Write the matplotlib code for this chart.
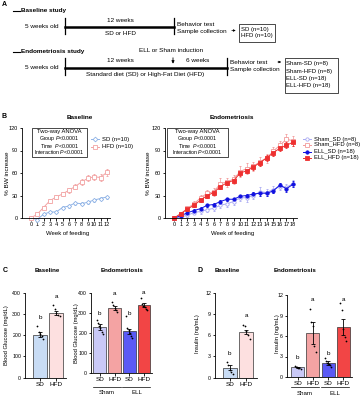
import numpy as np
import matplotlib
matplotlib.use("Agg")
import matplotlib.pyplot as plt
from matplotlib.patches import Rectangle

plt.rcParams['font.family'] = ['Liberation Sans', 'DejaVu Sans']
plt.rcParams['mathtext.fontset'] = 'custom'
plt.rcParams['mathtext.it'] = 'Liberation Sans:italic'
plt.rcParams['mathtext.rm'] = 'Liberation Sans'
plt.rcParams['axes.linewidth'] = 0.6
plt.rcParams['xtick.major.width'] = 0.6
plt.rcParams['ytick.major.width'] = 0.6
plt.rcParams['xtick.major.size'] = 1.8
plt.rcParams['ytick.major.size'] = 1.8
plt.rcParams['xtick.labelsize'] = 4
plt.rcParams['ytick.labelsize'] = 4
plt.rcParams['xtick.major.pad'] = 1.2
plt.rcParams['ytick.major.pad'] = 1.0

# ===== data =====
weeks_base = list(range(0, 13))
sd_base = [0, -2, 5, 8, 8, 14, 16, 20, 19, 21, 24, 26, 28]
sd_base_err = [0, 1, 1.5, 1.5, 1.5, 2, 2, 2, 2, 2, 2, 2, 2]
hfd_base = [0, 5, 14, 23, 28, 32, 37, 42, 48, 53, 55, 54, 61]
hfd_base_err = [0, 1.5, 2, 2.5, 2.5, 3, 3, 3, 4, 4, 4, 5, 5]

weeks_endo = list(range(0, 19))
sham_sd = [0, 1, 4, 7, 9, 11, 13, 17, 19, 22, 27, 27, 30, 35, 34, 38, 42, 41, 46]
sham_sd_err = [0, 1, 2, 2, 3, 3, 3, 4, 4, 4, 4, 5, 5, 6, 5, 5, 5, 5, 5]
sham_hfd = [0, 5, 13, 19, 27, 33, 35, 46, 48, 52, 62, 66, 69, 75, 80, 89, 97, 105, 103]
sham_hfd_err = [0, 2, 3, 4, 4, 5, 5, 7, 6, 6, 7, 7, 6, 6, 6, 6, 6, 7, 7]
ell_sd = [0, 3, 7, 10, 12.5, 17, 18, 22, 25, 25, 29, 30, 32, 33, 33, 36, 44, 39, 45]
ell_sd_err = [0, 1, 1.5, 2, 2, 2, 2, 2, 2, 2, 2, 2, 3, 3, 3, 3, 3, 4, 4]
ell_hfd = [0, 6, 12, 17, 24, 30, 34, 42, 47, 50, 60, 63, 68, 74, 80, 87, 93, 97, 101]
ell_hfd_err = [0, 1.5, 2, 2, 2.5, 3, 3, 3, 3, 3, 3.5, 3.5, 4, 4, 4, 4, 4, 4, 5]

glu_base = [203, 305]
glu_base_err = [12, 10]
glu_base_pts = [[243, 215, 205, 195, 180], [340, 325, 305, 295, 290]]
glu_base_letters = [('b', 284), ('a', 381)]

glu_endo = [230, 322, 207, 338]
glu_endo_err = [14, 10, 14, 10]
glu_endo_pts = [[265, 250, 235, 222, 205, 195],
                [352, 340, 325, 312, 305],
                [282, 225, 212, 198, 186, 172],
                [372, 345, 335, 327, 320, 315]]
glu_endo_letters = [('b', 296), ('a', 395), ('b', 296), ('a', 400)]

ins_base = [1.4, 6.4]
ins_base_err = [0.35, 0.3]
ins_base_pts = [[2.2, 1.8, 1.1, 0.75, 0.5], [7.4, 7.3, 6.6, 6.0, 5.4]]
ins_base_letters = [('b', 3.4), ('a', 8.8)]

ins_endo = [1.4, 6.4, 2.0, 7.3]
ins_endo_err = [0.1, 1.6, 0.3, 1.2]
ins_endo_pts = [[1.6, 1.5, 1.4, 1.35, 1.25, 1.2],
                [10.0, 8.0, 7.4, 4.55, 3.7],
                [2.8, 2.4, 2.1, 1.9, 1.7, 1.5],
                [10.9, 9.8, 7.0, 5.9, 5.3]]
ins_endo_letters = [('b', 2.9), ('a', 11.3), ('b', 3.5), ('a', 11.4)]

base_labels = ['SD', 'HFD']
endo_labels = ['SD', 'HFD', 'SD', 'HFD']

c_sd = '#8fb3e6'
c_hfd = '#f2a3a3'
c_sham_sd = '#a9a9f2'
c_sham_hfd = '#f29a9a'
c_ell_sd = '#1010e0'
c_ell_hfd = '#ee3030'
bar_base_cols = ['#c8dcf5', '#fde0e0']
bar_endo_cols = ['#c9c9f7', '#f4a3a3', '#5a5af5', '#f24545']

W, H = 362, 400
fig = plt.figure(figsize=(W / 100, H / 100), dpi=100)


def rect(x0, y0, x1, y1):
    return [x0 / W, 1 - y1 / H, (x1 - x0) / W, (y1 - y0) / H]


ov = fig.add_axes([0, 0, 1, 1], facecolor='none')
ov.set_xlim(0, W)
ov.set_ylim(H, 0)
ov.axis('off')
ov.set_zorder(5)

fs = 4.6


def txt(x, y, s, **kw):
    kw.setdefault('fontsize', fs)
    kw.setdefault('va', 'center')
    ov.text(x, y, s, **kw)


# ===== A: study design =====
txt(1.5, 4, 'A', fontweight='bold', fontsize=5)
ov.plot([13, 20], [10.5, 10.5], color='k', lw=0.8)
txt(21, 10.5, 'Baseline study', fontweight='bold')
txt(42, 26.5, '5 weeks old', ha='center')
ov.plot([64.5, 64.5], [18, 34], color='k', lw=0.9)
ov.plot([64.5, 173.5], [26.5, 26.5], color='k', lw=1.8)
ov.plot([173.5, 173.5], [18, 34], color='k', lw=0.9)
txt(120, 20.5, '12 weeks', ha='center')
txt(120, 33.5, 'SD or HFD', ha='center')
txt(177, 24, 'Behavior test')
txt(177, 31, 'Sample collection')
ov.annotate('', xy=(238.5, 30.5), xytext=(229, 30.5),
            arrowprops=dict(arrowstyle='-|>', lw=0.5, color='k', mutation_scale=3))
ov.add_patch(Rectangle((239, 23.5), 36, 18.5, fill=False, lw=0.5, ec='k'))
txt(241, 29, 'SD (n=10)', fontsize=4.3)
txt(241, 36, 'HFD (n=10)', fontsize=4.3)

ov.plot([13, 20], [52, 52], color='k', lw=0.8)
txt(21, 52, 'Endometriosis study', fontweight='bold')
txt(171, 51, 'ELL or Sham induction', ha='center')
ov.annotate('', xy=(173, 66.5), xytext=(173, 55),
            arrowprops=dict(arrowstyle='-|>', lw=0.6, color='k', mutation_scale=4))
txt(120, 61, '12 weeks', ha='center')
txt(198, 61, '6 weeks', ha='center')
txt(42, 67.5, '5 weeks old', ha='center')
ov.plot([64.5, 64.5], [58, 75], color='k', lw=0.9)
ov.plot([64.5, 227], [67.5, 67.5], color='k', lw=1.8)
ov.plot([227, 227], [58, 75], color='k', lw=0.9)
txt(145, 74.5, 'Standard diet (SD) or High-Fat Diet (HFD)', ha='center')
txt(230, 62, 'Behavior test')
txt(230, 70, 'Sample collection')
ov.annotate('', xy=(284, 62), xytext=(275, 62),
            arrowprops=dict(arrowstyle='-|>', lw=0.5, color='k', mutation_scale=3))
ov.add_patch(Rectangle((284.5, 57.5), 53.5, 35.5, fill=False, lw=0.5, ec='k'))
for yy, s in zip([63, 71, 78.5, 86], ['Sham-SD (n=8)', 'Sham-HFD (n=8)',
                                      'ELL-SD (n=18)', 'ELL-HFD (n=18)']):
    txt(286.5, yy, s, fontsize=4.3)

# ===== B: body weight =====
txt(1.5, 116.5, 'B', fontweight='bold', fontsize=5)
txt(80, 117.5, 'Baseline', ha='center', fontweight='bold')
txt(232, 117.5, 'Endometriosis', ha='center', fontweight='bold')


def style_ax(ax):
    ax.spines['top'].set_visible(False)
    ax.spines['right'].set_visible(False)
    ax.patch.set_alpha(0)


axb = fig.add_axes(rect(22, 128, 110, 218))
style_ax(axb)
axb.errorbar(weeks_base, sd_base, yerr=sd_base_err, color=c_sd, marker='D', ms=2.2,
             mfc='white', mew=0.6, lw=0.7, capsize=1, elinewidth=0.5, clip_on=False)
axb.errorbar(weeks_base, hfd_base, yerr=hfd_base_err, color=c_hfd, marker='s', ms=2.4,
             mfc='white', mew=0.6, lw=0.7, capsize=1, elinewidth=0.5, clip_on=False)
axb.set_xlim(-1.4, 12.5)
axb.set_ylim(0, 120)
axb.set_xticks(weeks_base)
axb.set_yticks([0, 30, 60, 90, 120])

axe = fig.add_axes(rect(165, 128, 297, 218))
style_ax(axe)
for vals, err, col, mk, mfc in [(sham_sd, sham_sd_err, c_sham_sd, 'o', 'white'),
                                (sham_hfd, sham_hfd_err, c_sham_hfd, 's', 'white'),
                                (ell_sd, ell_sd_err, c_ell_sd, 'o', c_ell_sd),
                                (ell_hfd, ell_hfd_err, c_ell_hfd, 's', c_ell_hfd)]:
    axe.errorbar(weeks_endo, vals, yerr=err, color=col, marker=mk, ms=2.4, mfc=mfc,
                 mew=0.6, lw=0.7, capsize=1, elinewidth=0.5, clip_on=False)
axe.set_xlim(-1.4, 18.6)
axe.set_ylim(0, 120)
axe.set_xticks(weeks_endo)
axe.set_yticks([0, 30, 60, 90, 120])

txt(8, 173, '% BW increase', rotation=90, ha='center')
txt(148, 173, '% BW increase', rotation=90, ha='center')
txt(68, 233, 'Week of feeding', ha='center', fontsize=4.3)
txt(233, 233, 'Week of feeding', ha='center', fontsize=4.3)

# ANOVA boxes
for x0, x1 in [(32, 87), (167, 228)]:
    ov.add_patch(Rectangle((x0, 128), x1 - x0, 29, fill=False, lw=0.5, ec='k'))
    cx = (x0 + x1) / 2
    txt(cx, 132, 'Two-way ANOVA', ha='center', fontsize=4.2)
    txt(cx, 138.4, r'Group $\it{P}$<0.0001', ha='center', fontsize=3.8)
    txt(cx, 145.6, r'Time  $\it{P}$<0.0001', ha='center', fontsize=3.8)
    txt(cx, 152.5, r'Interaction $\it{P}$<0.0001', ha='center', fontsize=3.8)


def leg_item(x, y, col, mk, mfc, label):
    ov.plot([x - 4, x + 4], [y, y], color=col, lw=0.7)
    ov.plot([x], [y], marker=mk, color=col, mfc=mfc, ms=2.4, mew=0.6)
    txt(x + 7, y, label, fontsize=4.2)


leg_item(95, 139, c_sd, 'D', 'white', 'SD (n=10)')
leg_item(95, 146.5, c_hfd, 's', 'white', 'HFD (n=10)')
leg_item(306.5, 139, c_sham_sd, 'o', 'white', 'Sham_SD (n=8)')
leg_item(306.5, 144.5, c_sham_hfd, 's', 'white', 'Sham_HFD (n=8)')
leg_item(306.5, 151.5, c_ell_sd, 'o', c_ell_sd, 'ELL_SD (n=18)')
leg_item(306.5, 158, c_ell_hfd, 's', c_ell_hfd, 'ELL_HFD (n=18)')


# ===== C / D: bars =====
def bar_panel(r, xlim, means, errs, pts, letters, cols, labels, ylim, yticks):
    ax = fig.add_axes(rect(*r))
    style_ax(ax)
    x = np.arange(len(means))
    ax.bar(x, means, width=0.86, color=cols, edgecolor='#333333', linewidth=0.5, zorder=1)
    ax.errorbar(x, means, yerr=errs, fmt='none', ecolor='k', elinewidth=0.6,
                capsize=1.5, capthick=0.6, zorder=3)
    for i, p in enumerate(pts):
        offs = np.linspace(-0.2, 0.2, len(p))
        ax.scatter(i + offs, p, s=1.6, color='k', zorder=4, linewidths=0, clip_on=False)
    for i, (s, yv) in enumerate(letters):
        ax.text(i, yv, s, ha='center', va='center', fontsize=4.6)
    ax.set_xlim(*xlim)
    ax.set_ylim(*ylim)
    ax.set_yticks(yticks)
    ax.tick_params(axis='y', labelsize=3.8)
    ax.set_xticks(x)
    ax.set_xticklabels(labels, fontsize=4.6)
    return ax


txt(3, 270, 'C', fontweight='bold', fontsize=5)
txt(47, 270, 'Baseline', ha='center', fontweight='bold', fontsize=4.4)
txt(122, 270, 'Endometriosis', ha='center', fontweight='bold', fontsize=4.4)
bar_panel((25, 292.7, 66, 377.7), (-0.95, 1.6), glu_base, glu_base_err, glu_base_pts,
          glu_base_letters, bar_base_cols, base_labels, (0, 400), [0, 100, 200, 300, 400])
bar_panel((91, 292.7, 152, 373), (-0.6, 3.55), glu_endo, glu_endo_err, glu_endo_pts,
          glu_endo_letters, bar_endo_cols, endo_labels, (0, 400), [0, 100, 200, 300, 400])
txt(7, 335, 'Blood Glucose (mg/dL)', rotation=90, ha='center', fontsize=4.2)
txt(76.5, 333, 'Blood Glucose (mg/dL)', rotation=90, ha='center', fontsize=4.2)
for a, b, cx, s in [(93, 121, 107, 'Sham'), (122, 150, 137, 'ELL')]:
    ov.plot([a, b], [386.5, 386.5], color='k', lw=0.5)
    txt(cx, 393, s, ha='center', fontsize=4.4)

txt(198, 270, 'D', fontweight='bold', fontsize=5)
txt(227, 270, 'Baseline', ha='center', fontweight='bold', fontsize=4.4)
txt(295, 270, 'Endometriosis', ha='center', fontweight='bold', fontsize=4.4)
bar_panel((215, 292.7, 257, 377.7), (-0.9, 1.65), ins_base, ins_base_err, ins_base_pts,
          ins_base_letters, bar_base_cols, base_labels, (0, 12), [0, 3, 6, 9, 12])
bar_panel((287, 295, 352, 377), (-0.7, 3.57), ins_endo, ins_endo_err, ins_endo_pts,
          ins_endo_letters, bar_endo_cols, endo_labels, (0, 12), [0, 3, 6, 9, 12])
txt(197, 334, 'Insulin (ng/mL)', rotation=90, ha='center', fontsize=4.2)
txt(277, 334, 'Insulin (ng/mL)', rotation=90, ha='center', fontsize=4.2)
for a, b, cx, s in [(291, 319, 305, 'Sham'), (321, 349, 335, 'ELL')]:
    ov.plot([a, b], [387, 387], color='k', lw=0.5)
    txt(cx, 393.5, s, ha='center', fontsize=4.4)

fig.savefig('out.png', dpi=100)
